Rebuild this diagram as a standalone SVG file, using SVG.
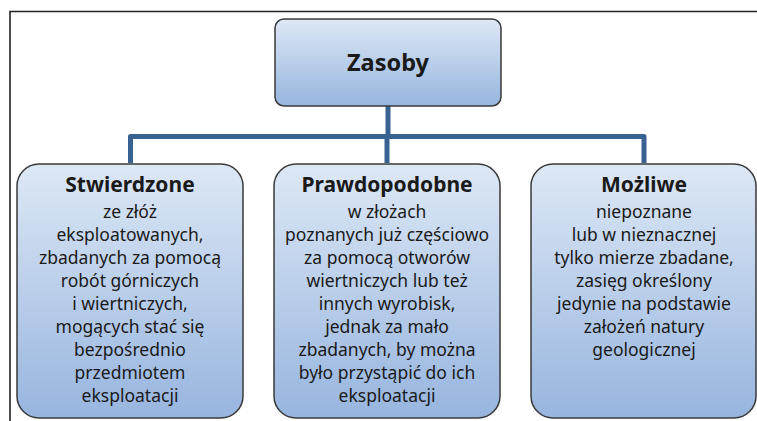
<svg xmlns="http://www.w3.org/2000/svg" width="757" height="421" viewBox="0 0 757 421">
<defs>
<linearGradient id="g" x1="0" y1="0" x2="0" y2="1">
<stop offset="0" stop-color="#dde8f5"/>
<stop offset="1" stop-color="#97b5df"/>
</linearGradient>
</defs>
<style>
.box{fill:url(#g);stroke:#3a3a3a;stroke-width:1.5}
.con{fill:none;stroke:#386291;stroke-width:5;stroke-linejoin:round}
.frame{fill:none;stroke:#222;stroke-width:1.6}
text{font-family:"Noto Sans","Open Sans",sans-serif;fill:#1a1a1a;text-anchor:middle}
.h{font-weight:bold;font-size:21px}
.b{font-size:17.5px}
.t{font-weight:bold;font-size:23.5px}
</style>
<rect width="757" height="421" fill="#ffffff"/>
<path class="frame" d="M10 421 V11.5 H757"/>
<g id="connectors">
<path class="con" d="M388 106 V136.5"/>
<path class="con" d="M130.5 163 V136.5 H644 V163"/>
<path class="con" d="M387 136.5 V163"/>
</g>
<g id="zasoby">
<rect class="box" x="275" y="19" width="226" height="87" rx="9"/>
<text class="t" x="388" y="71">Zasoby</text>
</g>
<g id="stwierdzone">
<rect class="box" x="17" y="164" width="226" height="254" rx="22"/>
<text class="h" x="130" y="192">Stwierdzone</text>
<text class="b" x="130" y="218">ze złóż</text>
<text class="b" x="130" y="241">eksploatowanych,</text>
<text class="b" x="130" y="264">zbadanych za pomocą</text>
<text class="b" x="130" y="287">robót górniczych</text>
<text class="b" x="130" y="310">i wiertniczych,</text>
<text class="b" x="130" y="333">mogących stać się</text>
<text class="b" x="130" y="356">bezpośrednio</text>
<text class="b" x="130" y="379">przedmiotem</text>
<text class="b" x="130" y="402">eksploatacji</text>
</g>
<g id="prawdopodobne">
<rect class="box" x="274" y="164" width="226" height="254" rx="22"/>
<text class="h" x="387" y="192">Prawdopodobne</text>
<text class="b" x="387" y="218">w złożach</text>
<text class="b" x="387" y="241">poznanych już częściowo</text>
<text class="b" x="387" y="264">za pomocą otworów</text>
<text class="b" x="387" y="287">wiertniczych lub też</text>
<text class="b" x="387" y="310">innych wyrobisk,</text>
<text class="b" x="387" y="333">jednak za mało</text>
<text class="b" x="387" y="356">zbadanych, by można</text>
<text class="b" x="387" y="379">było przystąpić do ich</text>
<text class="b" x="387" y="402">eksploatacji</text>
</g>
<g id="mozliwe">
<rect class="box" x="531" y="164" width="225" height="254" rx="22"/>
<text class="h" x="644" y="192">Możliwe</text>
<text class="b" x="644" y="218">niepoznane</text>
<text class="b" x="644" y="241">lub w nieznacznej</text>
<text class="b" x="644" y="264">tylko mierze zbadane,</text>
<text class="b" x="644" y="287">zasięg określony</text>
<text class="b" x="644" y="310">jedynie na podstawie</text>
<text class="b" x="644" y="333">założeń natury</text>
<text class="b" x="644" y="356">geologicznej</text>
</g>
</svg>
